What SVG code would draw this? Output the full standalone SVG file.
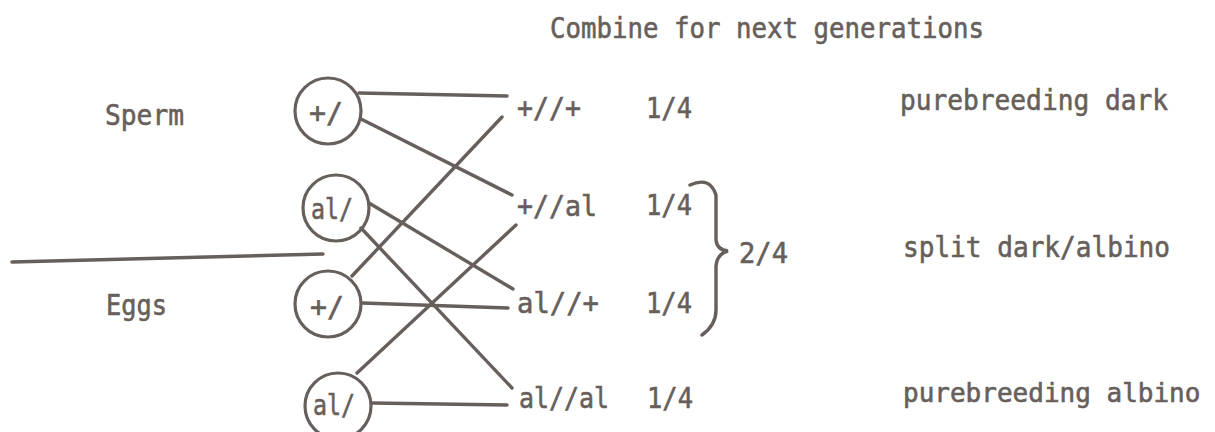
<svg xmlns="http://www.w3.org/2000/svg" width="1215" height="432" viewBox="0 0 1215 432">
<style>
text{font-family:"DejaVu Sans Mono","Liberation Mono",monospace;font-size:29px;fill:#675f5b;stroke:#675f5b;stroke-width:0.6}
.c{fill:none;stroke:#675f5b;stroke-width:3.2}
.l{fill:none;stroke:#675f5b;stroke-width:3.4;stroke-linecap:round}
</style>
<rect width="1215" height="432" fill="#ffffff"/>
<text x="550" y="38" textLength="434" lengthAdjust="spacingAndGlyphs">Combine for next generations</text>
<text x="105" y="125" textLength="79" lengthAdjust="spacingAndGlyphs">Sperm</text>
<text x="106" y="315" textLength="61" lengthAdjust="spacingAndGlyphs">Eggs</text>
<g id="sperm-plus"><circle class="c" cx="328" cy="111" r="33"/><text x="309" y="123" textLength="34" lengthAdjust="spacingAndGlyphs">+/</text></g>
<g id="sperm-al"><circle class="c" cx="336" cy="208" r="33"/><text x="311" y="219" textLength="42" lengthAdjust="spacingAndGlyphs">al/</text></g>
<g id="egg-plus"><circle class="c" cx="328" cy="304" r="33"/><text x="310" y="317" textLength="34" lengthAdjust="spacingAndGlyphs">+/</text></g>
<g id="egg-al"><circle class="c" cx="338" cy="406" r="33"/><text x="313" y="415" textLength="42" lengthAdjust="spacingAndGlyphs">al/</text></g>
<g id="o1"><text x="517" y="118" textLength="64" lengthAdjust="spacingAndGlyphs">+//+</text><text x="646" y="118" textLength="46" lengthAdjust="spacingAndGlyphs">1/4</text><text x="900" y="110" textLength="268" lengthAdjust="spacingAndGlyphs">purebreeding dark</text></g>
<g id="o2"><text x="517" y="216" textLength="80" lengthAdjust="spacingAndGlyphs">+//al</text><text x="646" y="215" textLength="46" lengthAdjust="spacingAndGlyphs">1/4</text></g>
<g id="o3"><text x="517" y="313" textLength="82" lengthAdjust="spacingAndGlyphs">al//+</text><text x="646" y="313" textLength="46" lengthAdjust="spacingAndGlyphs">1/4</text></g>
<g id="o4"><text x="519" y="408" textLength="90" lengthAdjust="spacingAndGlyphs">al//al</text><text x="647" y="408" textLength="46" lengthAdjust="spacingAndGlyphs">1/4</text><text x="903" y="402" style="font-size:26px">purebreeding albino</text></g>
<g id="split"><text x="739" y="263" textLength="49" lengthAdjust="spacingAndGlyphs">2/4</text><text x="903" y="257" textLength="267" lengthAdjust="spacingAndGlyphs">split dark/albino</text></g>
<g id="connectors">
<line class="l" x1="12" y1="262" x2="323" y2="254"/>
<line class="l" x1="359" y1="93" x2="507" y2="96"/>
<line class="l" x1="361" y1="119" x2="512" y2="195"/>
<line class="l" x1="352" y1="276" x2="502" y2="117"/>
<line class="l" x1="369" y1="203" x2="513" y2="289"/>
<line class="l" x1="361" y1="228" x2="512" y2="388"/>
<line class="l" x1="362" y1="303" x2="508" y2="308"/>
<line class="l" x1="357" y1="373" x2="516" y2="225"/>
<line class="l" x1="372" y1="403" x2="507" y2="405"/>
<path class="l" d="M690 185 Q710 176 716 195 L716 240 Q717 250 728 251 Q717 254 716 266 L716 310 Q716 325 702 335"/>
</g>
</svg>
